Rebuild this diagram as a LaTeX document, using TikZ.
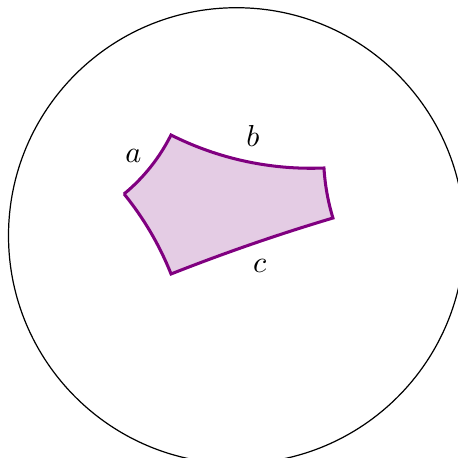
\documentclass[tikz,border=0pt]{standalone}
\begin{document}
\begin{tikzpicture}[
		scale=2.64,
		every node/.style={font=\normalsize}
	]
		\definecolor{MauTo}{RGB}{228,204,228}
		\definecolor{MauVien}{RGB}{128,0,128}
		\useasboundingbox (-1.0373,-0.975) rectangle (0.9715,1.0338);
		\clip (-1.0373,-0.975) rectangle (0.9715,1.0338);
		\draw[line width=0.4pt] (0,0) circle (1);
		\coordinate (E) at (-0.4934,0.1829);
		\filldraw[fill=MauTo,draw=MauVien,line width=1pt]
			(E) arc[start angle=-50.54,end angle=-26.52,radius=0.79504]
			arc[start angle=-116.76,end angle=-87.59,radius=1.36293]
			arc[start angle=183.47,end angle=196.90,radius=0.95312]
			arc[start angle=106.606,end angle=111.529,radius=8.74661]
			arc[start angle=21.76,end angle=39.09,radius=1.35096]
			-- cycle;
		\node (la) at (-0.4526,0.3518)
			{$a$};
		\node (lb) at (0.0724,0.4373)
			{$b$};
		\node (lc) at (0.1018,-0.1316)
			{$c$};
	\end{tikzpicture}
\end{document}
